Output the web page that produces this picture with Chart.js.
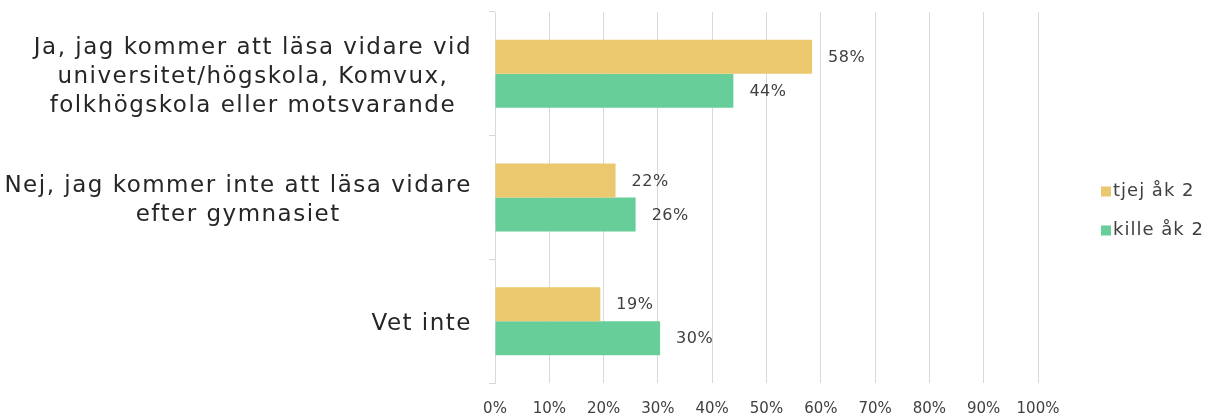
<!DOCTYPE html>
<html lang="sv">
<head>
    <meta charset="UTF-8">
    <title>Vidare studier</title>
    <style>
        body { margin: 0; background: #fff; }
        #wrap { width: 1206px; height: 418px; }
    </style>
</head>
<body>
<script src="https://cdn.jsdelivr.net/npm/chart.js"></script>
<div id="wrap"><canvas id="chart" width="1206" height="418"></canvas></div>
<script>
    const categories = [
        ['Ja, jag kommer att läsa vidare vid', 'universitet/högskola, Komvux,', 'folkhögskola eller motsvarande'],
        ['Nej, jag kommer inte att läsa vidare', 'efter gymnasiet'],
        ['Vet inte']
    ];
    const seriesNames = ['tjej åk 2', 'kille åk 2'];
    const seriesColors = ['#ebc76e', '#67ce9a'];
    const tjejValues = [58.4, 22.2, 19.4];
    const killeValues = [43.9, 25.9, 30.4];
    const xTickStep = 10;

    const FONT = '"DejaVu Sans", sans-serif';

    // etiketter till höger om staplarna
    const valueLabels = {
        id: 'valueLabels',
        afterDatasetsDraw(chart) {
            const ctx = chart.ctx;
            ctx.save();
            ctx.font = '16px ' + FONT;
            ctx.letterSpacing = '0.5px';
            ctx.fillStyle = '#404040';
            ctx.textBaseline = 'middle';
            ctx.textAlign = 'left';
            chart.data.datasets.forEach((ds, i) => {
                chart.getDatasetMeta(i).data.forEach((bar, j) => {
                    ctx.fillText(Math.round(ds.data[j]) + '%', bar.x + 16, bar.y + 1);
                });
            });
            ctx.restore();
        }
    };

    // kategoritexter: blocket högerställt, raderna centrerade
    const categoryLabels = {
        id: 'categoryLabels',
        afterDraw(chart) {
            const ctx = chart.ctx;
            const y = chart.scales.y;
            ctx.save();
            ctx.font = '23px ' + FONT;
            ctx.letterSpacing = '1.5px';
            ctx.fillStyle = '#262626';
            ctx.textBaseline = 'middle';
            ctx.textAlign = 'center';
            const lineH = 29;
            const right = y.right - 23;
            categories.forEach((lines, i) => {
                const maxW = Math.max(...lines.map(l => ctx.measureText(l).width));
                const cx = right - maxW / 2;
                const cy = y.getPixelForValue(i) + 3;
                lines.forEach((l, k) => {
                    ctx.fillText(l, cx, cy + (k - (lines.length - 1) / 2) * lineH);
                });
            });
            ctx.restore();
        }
    };

    // förklaring till höger, lodrätt centrerad
    const sideLegend = {
        id: 'sideLegend',
        afterDraw(chart) {
            const ctx = chart.ctx;
            ctx.save();
            ctx.font = '18px ' + FONT;
            ctx.letterSpacing = '1px';
            ctx.textBaseline = 'middle';
            ctx.textAlign = 'left';
            const x = chart.scales.x.right + 63;
            const mid = chart.height / 2 + 2;
            chart.data.datasets.forEach((ds, i) => {
                const cy = mid + (i - 0.5) * 39;
                ctx.fillStyle = ds.backgroundColor;
                ctx.fillRect(x, cy - 5, 10, 10);
                ctx.fillStyle = '#404040';
                ctx.fillText(ds.label, x + 12, cy);
            });
            ctx.restore();
        }
    };

    new Chart(document.getElementById('chart'), {
        type: 'bar',
        data: {
            labels: categories,
            datasets: [{
                label: seriesNames[0],
                data: tjejValues,
                backgroundColor: seriesColors[0],
                categoryPercentage: 0.55,
                barPercentage: 1
            }, {
                label: seriesNames[1],
                data: killeValues,
                backgroundColor: seriesColors[1],
                categoryPercentage: 0.55,
                barPercentage: 1
            }]
        },
        options: {
            indexAxis: 'y',
            responsive: false,
            animation: false,
            layout: { padding: { top: 12, right: 168, bottom: 0, left: 0 } },
            plugins: {
                legend: { display: false },
                tooltip: { enabled: false }
            },
            scales: {
                x: {
                    min: 0,
                    max: 100,
                    ticks: {
                        stepSize: xTickStep,
                        callback: v => v + '%',
                        color: '#404040',
                        font: { family: FONT, size: 15 },
                        padding: 17
                    },
                    grid: { color: '#d9d9d9', drawTicks: false },
                    border: { display: false },
                    afterFit(scale) { scale.height = 35; }
                },
                y: {
                    ticks: { display: false },
                    grid: { drawOnChartArea: false, color: '#d9d9d9', tickLength: 6 },
                    border: { display: true, color: '#d9d9d9' },
                    afterFit(scale) { scale.width = 495; }
                }
            }
        },
        plugins: [valueLabels, categoryLabels, sideLegend]
    });
</script>
</body>
</html>
